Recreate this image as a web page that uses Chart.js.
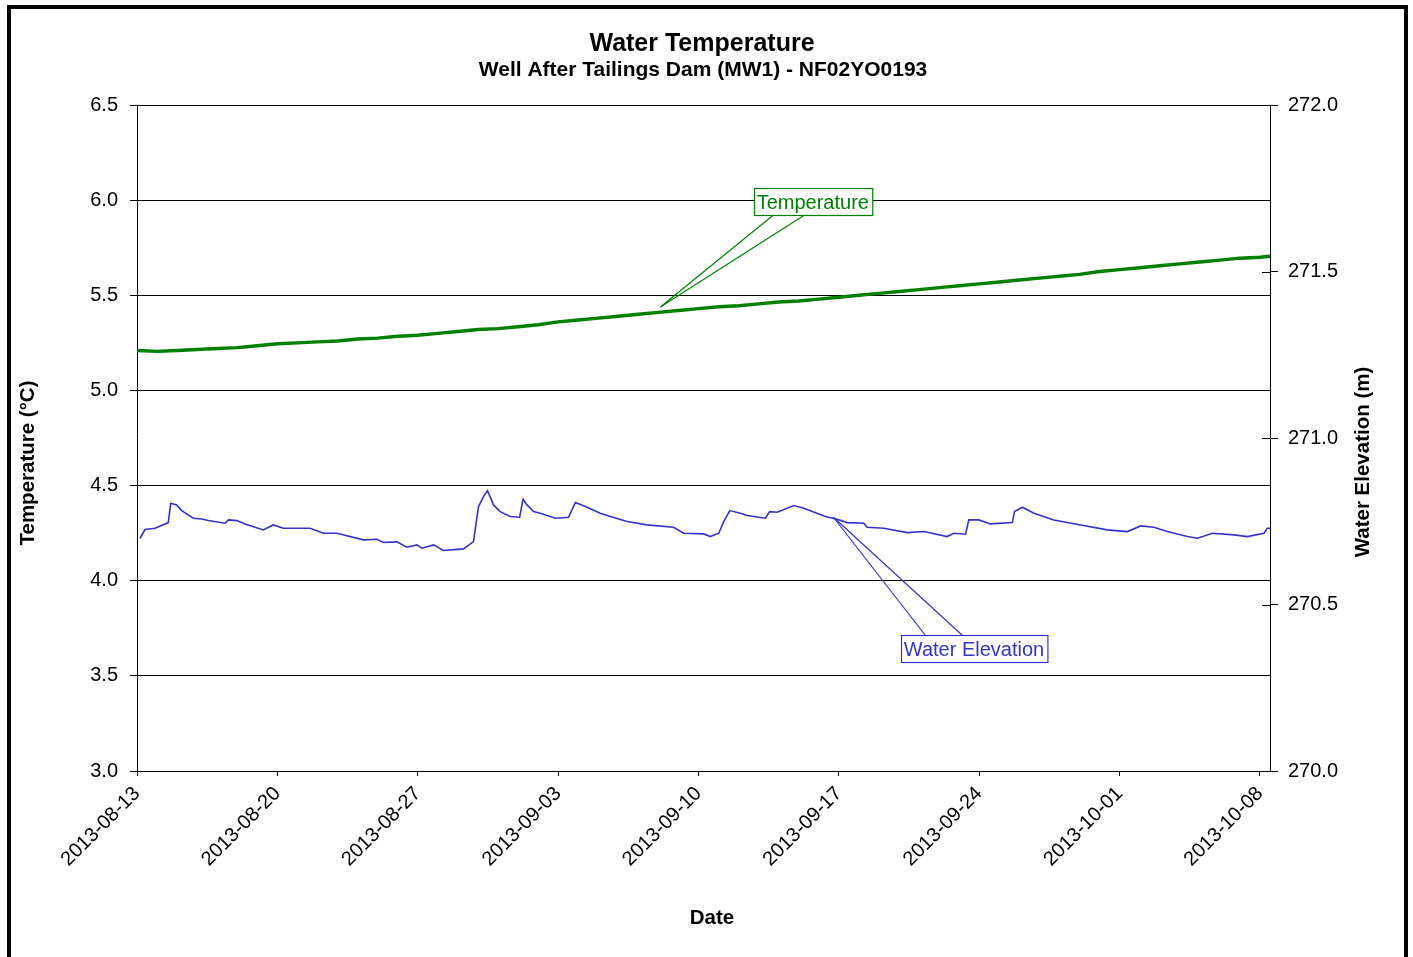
<!DOCTYPE html>
<html>
<head>
<meta charset="utf-8">
<script src="https://cdn.jsdelivr.net/npm/chart.js@4.4.0/dist/chart.umd.min.js"></script>
<style>
  html, body { margin: 0; padding: 0; background: #fff; }
  #chart { display: block; }
</style>
</head>
<body>
<canvas id="chart" width="1413" height="957"></canvas>
<script>
// tick labels for the date axis (one every 7 days from 2013-08-13)
var dateLabels = ['2013-08-13', '2013-08-20', '2013-08-27', '2013-09-03', '2013-09-10',
                  '2013-09-17', '2013-09-24', '2013-10-01', '2013-10-08'];

// temperature, days since 2013-08-13
var tempDay = [0, 1, 2, 3, 4, 5, 6, 7, 8, 9, 10, 11, 12, 13, 14, 15, 16, 17, 18, 19,
               20, 21, 22, 23, 24, 25, 26, 27, 28, 29, 30, 31, 32, 33, 34, 35, 36, 37, 38, 39,
               40, 41, 42, 43, 44, 45, 46, 47, 48, 49, 50, 51, 52, 53, 54, 55, 56, 56.5];
var tempValue = [5.21, 5.205, 5.21, 5.215, 5.22, 5.225, 5.235, 5.245, 5.25, 5.255,
                 5.26, 5.27, 5.275, 5.285, 5.29, 5.30, 5.31, 5.32, 5.325, 5.335,
                 5.345, 5.36, 5.37, 5.38, 5.39, 5.40, 5.41, 5.42, 5.43, 5.44,
                 5.445, 5.455, 5.465, 5.47, 5.48, 5.49, 5.50, 5.51, 5.52, 5.53,
                 5.54, 5.55, 5.56, 5.57, 5.58, 5.59, 5.60, 5.61, 5.625, 5.635,
                 5.645, 5.655, 5.665, 5.675, 5.685, 5.695, 5.70, 5.705];

// water elevation (m), days since 2013-08-13
var elevDay = [0.15, 0.40, 0.90, 1.56, 1.68, 1.98, 2.23, 2.81, 3.23, 3.56,
               4.39, 4.56, 4.98, 5.39, 6.30, 6.80, 7.30, 8.63, 9.30, 9.97,
               11.29, 11.96, 12.29, 12.96, 13.46, 13.96, 14.21, 14.79, 15.28, 16.28,
               16.78, 17.03, 17.28, 17.48, 17.78, 18.11, 18.61, 19.08, 19.25, 19.45,
               19.78, 20.11, 20.86, 21.52, 21.86, 22.36, 23.10, 23.60, 24.44, 25.43,
               26.76, 27.26, 28.26, 28.59, 29.01, 29.26, 29.56, 30.09, 30.42, 31.34,
               31.55, 31.92, 32.75, 33.25, 34.33, 34.91, 35.41, 36.24, 36.41, 37.24,
               38.41, 39.24, 40.40, 40.73, 41.32, 41.48, 41.98, 42.56, 43.65, 43.76,
               44.15, 44.73, 45.72, 47.06, 48.39, 49.39, 50.05, 50.71, 51.38, 52.38,
               52.88, 53.63, 54.71, 55.37, 56.20, 56.37, 56.54];
var elevValue = [270.699, 270.725, 270.729, 270.746, 270.804, 270.799, 270.782, 270.759, 270.757, 270.752,
                 270.744, 270.754, 270.752, 270.742, 270.724, 270.739, 270.729, 270.729, 270.714, 270.714,
                 270.694, 270.696, 270.686, 270.688, 270.672, 270.679, 270.669, 270.679, 270.662, 270.667,
                 270.689, 270.794, 270.824, 270.842, 270.799, 270.779, 270.764, 270.762, 270.816, 270.799,
                 270.779, 270.774, 270.759, 270.762, 270.806, 270.794, 270.774, 270.764, 270.749, 270.739,
                 270.732, 270.714, 270.712, 270.704, 270.714, 270.749, 270.782, 270.774, 270.767, 270.759,
                 270.779, 270.777, 270.797, 270.789, 270.764, 270.756, 270.746, 270.744, 270.732, 270.729,
                 270.716, 270.719, 270.704, 270.714, 270.711, 270.754, 270.754, 270.742, 270.746, 270.779,
                 270.792, 270.774, 270.754, 270.739, 270.724, 270.719, 270.736, 270.732, 270.719, 270.704,
                 270.699, 270.714, 270.709, 270.704, 270.714, 270.729, 270.729];

var FONT = '"Liberation Sans", Arial, sans-serif';
var GREEN = '#008000';
var BLUE = '#3333cc';

function pairs(xs, ys) {
    return xs.map(function (x, i) { return { x: x, y: ys[i] }; });
}

// callout labels: anchor in data units, box centre in data units (left axis)
var callouts = [
    { text: 'Temperature', color: GREEN, axis: 'y', day: 26.1, value: 5.438,
      boxDay: 33.7, boxValue: 5.993, legs: [-40, -9], below: true },
    { text: 'Water Elevation', color: BLUE, axis: 'y2', day: 34.73, value: 270.762,
      boxDay: 41.74, boxValue: 3.644, legs: [-48.5, -11.5], below: false }
];

var decorPlugin = {
    id: 'decor',
    beforeDraw: function (chart) {
        var ctx = chart.ctx;
        ctx.save();
        ctx.fillStyle = '#fff';
        ctx.fillRect(0, 0, chart.width, chart.height);
        ctx.restore();
    },
    afterDraw: function (chart) {
        var ctx = chart.ctx;
        var sx = chart.scales.x, sy = chart.scales.y, sy2 = chart.scales.y2;
        ctx.save();

        // inner halves of right axis ticks
        ctx.strokeStyle = '#000';
        ctx.lineWidth = 1;
        sy2.ticks.forEach(function (t) {
            var py = Math.round(sy2.getPixelForValue(t.value)) + 0.5;
            ctx.beginPath();
            ctx.moveTo(chart.chartArea.right - 8, py);
            ctx.lineTo(chart.chartArea.right, py);
            ctx.stroke();
        });

        // titles
        ctx.fillStyle = '#000';
        ctx.textAlign = 'center';
        ctx.textBaseline = 'alphabetic';
        ctx.font = 'bold 25px ' + FONT;
        ctx.fillText('Water Temperature', 702, 51);
        ctx.font = 'bold 21px ' + FONT;
        ctx.fillText('Well After Tailings Dam (MW1) - NF02YO0193', 703, 76);

        ctx.font = 'bold 20.5px ' + FONT;
        ctx.textBaseline = 'middle';
        ctx.fillText('Date', 712, 918);
        ctx.save();
        ctx.translate(28, 463);
        ctx.rotate(-Math.PI / 2);
        ctx.fillText('Temperature (\u00B0C)', 0, 0);
        ctx.restore();
        ctx.save();
        ctx.translate(1363, 462);
        ctx.rotate(-Math.PI / 2);
        ctx.fillText('Water Elevation (m)', 0, 0);
        ctx.restore();

        // callouts
        ctx.font = '20px ' + FONT;
        callouts.forEach(function (c) {
            var ax = sx.getPixelForValue(c.day);
            var ay = chart.scales[c.axis].getPixelForValue(c.value);
            var bx = sx.getPixelForValue(c.boxDay);
            var by = sy.getPixelForValue(c.boxValue);
            var w = ctx.measureText(c.text).width + 6;
            var h = 27;
            var left = Math.round(bx - w / 2) + 0.5;
            var top = Math.round(by - h / 2) + 0.5;
            var edge = c.below ? top + h : top;
            ctx.strokeStyle = c.color;
            ctx.lineWidth = 1.2;
            c.legs.forEach(function (dx) {
                ctx.beginPath();
                ctx.moveTo(bx + dx, edge);
                ctx.lineTo(ax, ay);
                ctx.stroke();
            });
            ctx.fillStyle = '#fff';
            ctx.fillRect(left, top, w, h);
            ctx.strokeRect(left, top, w, h);
            ctx.fillStyle = c.color;
            ctx.textAlign = 'center';
            ctx.textBaseline = 'middle';
            ctx.fillText(c.text, bx, top + h / 2 + 1);
        });

        // outer frame
        ctx.strokeStyle = '#000';
        ctx.lineWidth = 4;
        ctx.strokeRect(9, 7, 1397, 1000);
        ctx.restore();
    }
};

Chart.defaults.font.family = FONT;
Chart.defaults.font.size = 20;
Chart.defaults.color = '#000';

new Chart(document.getElementById('chart').getContext('2d'), {
    type: 'line',
    data: {
        datasets: [
            {
                label: 'Water Elevation',
                data: pairs(elevDay, elevValue),
                yAxisID: 'y2',
                borderColor: BLUE,
                borderWidth: 1.6,
                pointRadius: 0,
                tension: 0,
                fill: false
            },
            {
                label: 'Temperature',
                data: pairs(tempDay, tempValue),
                yAxisID: 'y',
                borderColor: GREEN,
                borderWidth: 3.4,
                pointRadius: 0,
                tension: 0,
                fill: false
            }
        ]
    },
    options: {
        responsive: false,
        devicePixelRatio: 1,
        animation: false,
        layout: { padding: { top: 105, left: 0, right: 0, bottom: 0 } },
        plugins: {
            legend: { display: false },
            tooltip: { enabled: false }
        },
        scales: {
            x: {
                type: 'linear',
                position: 'bottom',
                min: 0,
                max: 56.5,
                afterFit: function (s) { s.height = 186; },
                ticks: {
                    stepSize: 7,
                    includeBounds: false,
                    autoSkip: false,
                    maxRotation: 45,
                    minRotation: 45,
                    padding: 6,
                    callback: function (v) { return dateLabels[Math.round(v / 7)]; }
                },
                grid: { drawOnChartArea: false, color: '#000', tickLength: 5 },
                border: { color: '#000', width: 1 }
            },
            y: {
                position: 'left',
                min: 3,
                max: 6.5,
                afterFit: function (s) { s.width = 137; },
                ticks: {
                    stepSize: 0.5,
                    padding: 12,
                    callback: function (v) { return v.toFixed(1); }
                },
                grid: { color: '#000', lineWidth: 1, tickLength: 7 },
                border: { color: '#000', width: 1 }
            },
            y2: {
                position: 'right',
                min: 270,
                max: 272,
                afterFit: function (s) { s.width = 143; },
                ticks: {
                    stepSize: 0.5,
                    padding: 10,
                    callback: function (v) { return v.toFixed(1); }
                },
                grid: { drawOnChartArea: false, color: '#000', tickLength: 8 },
                border: { color: '#000', width: 1 }
            }
        }
    },
    plugins: [decorPlugin]
});
</script>
</body>
</html>
